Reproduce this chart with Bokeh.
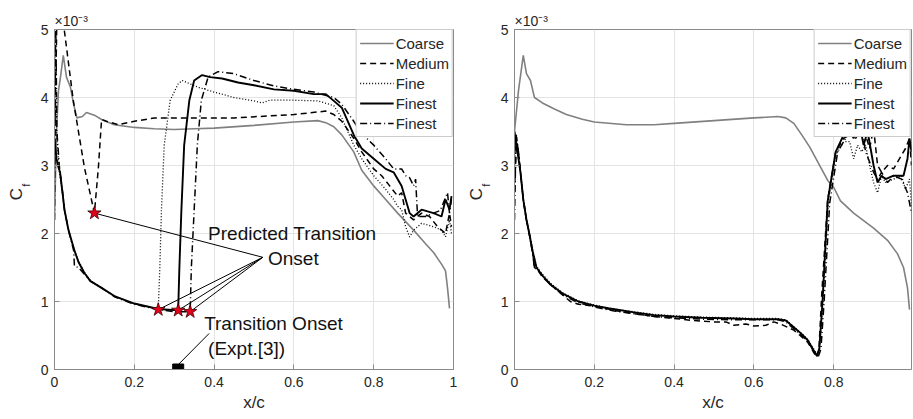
from bokeh.plotting import figure
from bokeh.layouts import row
from bokeh.models import Label, Legend, LegendItem, FixedTicker, Range1d
from bokeh.embed import file_html
from bokeh.resources import INLINE

FONT = "Liberation Sans"

x_ticks = [0, 0.2, 0.4, 0.6, 0.8, 1.0]
x_tick_labels = ["0", "0.2", "0.4", "0.6", "0.8", "1"]
y_ticks = [0, 1, 2, 3, 4, 5]
y_tick_labels = ["0", "1", "2", "3", "4", "5"]
series_names = ["Coarse", "Medium", "Fine", "Finest", "Finest"]

# ---- left panel (x/c, Cf x 1e3) ----
L_coarse = [(0.0, 2.2), (0.005, 3.5), (0.01, 4.1), (0.015, 4.3), (0.022, 4.62), (0.03, 4.3), (0.04, 4.15),
            (0.048, 3.9), (0.056, 3.7), (0.07, 3.72), (0.08, 3.78), (0.1, 3.74), (0.12, 3.67), (0.15, 3.6),
            (0.2, 3.56), (0.25, 3.54), (0.3, 3.53), (0.35, 3.54), (0.4, 3.55), (0.5, 3.59), (0.6, 3.64),
            (0.66, 3.66), (0.68, 3.63), (0.7, 3.57), (0.72, 3.45), (0.75, 3.2), (0.77, 2.93), (0.8, 2.7),
            (0.83, 2.5), (0.86, 2.3), (0.9, 2.05), (0.93, 1.85), (0.95, 1.72), (0.97, 1.55), (0.98, 1.45),
            (0.985, 1.2), (0.99, 0.9)]
L_medium = [(0.0, 3.0), (0.006, 5.2), (0.02, 5.2), (0.047, 3.96), (0.075, 2.97), (0.1, 2.3), (0.11, 2.97),
            (0.118, 3.68), (0.13, 3.65), (0.16, 3.6), (0.2, 3.65), (0.25, 3.7), (0.3, 3.7), (0.45, 3.7),
            (0.6, 3.75), (0.68, 3.8), (0.7, 3.75), (0.72, 3.65), (0.75, 3.4), (0.77, 3.2), (0.8, 2.95),
            (0.82, 2.85), (0.84, 2.7), (0.86, 2.55), (0.87, 2.6), (0.88, 2.3), (0.9, 2.2), (0.92, 2.3),
            (0.94, 2.25), (0.96, 2.1), (0.98, 2.0), (0.99, 2.3), (0.995, 2.1)]
L_fine = [(0.0, 4.9), (0.005, 3.5), (0.012, 2.9), (0.02, 2.6), (0.025, 2.35), (0.035, 2.05), (0.05, 1.75),
          (0.06, 1.6), (0.075, 1.43), (0.09, 1.31), (0.118, 1.2), (0.15, 1.08), (0.2, 0.97), (0.23, 0.93),
          (0.26, 0.88), (0.264, 1.5), (0.268, 2.34), (0.275, 3.3), (0.29, 3.96), (0.31, 4.2), (0.32, 4.25),
          (0.36, 4.15), (0.4, 4.08), (0.45, 4.0), (0.5, 3.95), (0.52, 3.92), (0.54, 3.96), (0.6, 3.96),
          (0.66, 3.95), (0.7, 3.88), (0.72, 3.7), (0.75, 3.3), (0.77, 3.1), (0.8, 2.85), (0.83, 2.65),
          (0.85, 2.5), (0.86, 2.4), (0.87, 2.35), (0.88, 2.1), (0.89, 1.95), (0.9, 2.05), (0.92, 2.15),
          (0.95, 2.1), (0.97, 2.05), (0.98, 1.95), (0.99, 2.2), (0.995, 2.0)]
L_finest = [(0.0, 3.4), (0.005, 3.1), (0.01, 2.97), (0.014, 2.9), (0.02, 2.6), (0.025, 2.35), (0.035, 2.05),
            (0.05, 1.75), (0.06, 1.58), (0.075, 1.42), (0.09, 1.3), (0.118, 1.2), (0.15, 1.08), (0.2, 0.97),
            (0.26, 0.89), (0.31, 0.87), (0.313, 1.5), (0.318, 2.34), (0.325, 3.3), (0.338, 3.96), (0.35, 4.25),
            (0.37, 4.33), (0.39, 4.3), (0.42, 4.28), (0.46, 4.22), (0.5, 4.18), (0.55, 4.12), (0.6, 4.1),
            (0.65, 4.05), (0.68, 4.05), (0.7, 3.95), (0.72, 3.85), (0.75, 3.45), (0.77, 3.25), (0.8, 3.1),
            (0.83, 2.95), (0.85, 2.9), (0.87, 2.7), (0.88, 2.5), (0.89, 2.3), (0.9, 2.25), (0.92, 2.35),
            (0.95, 2.3), (0.97, 2.25), (0.98, 2.5), (0.99, 2.35), (0.995, 2.55)]
L_finest2 = [(0.0, 2.2), (0.003, 5.2), (0.006, 3.5), (0.012, 3.0), (0.02, 2.62), (0.025, 2.35), (0.035, 2.05),
             (0.048, 1.75), (0.05, 1.52), (0.06, 1.5), (0.075, 1.4), (0.09, 1.3), (0.118, 1.2), (0.15, 1.07),
             (0.2, 0.96), (0.26, 0.88), (0.3, 0.85), (0.34, 0.85), (0.343, 1.5), (0.35, 2.34), (0.358, 3.3),
             (0.368, 3.96), (0.385, 4.3), (0.41, 4.38), (0.45, 4.35), (0.5, 4.25), (0.55, 4.17), (0.6, 4.12),
             (0.65, 4.08), (0.7, 4.0), (0.72, 3.9), (0.75, 3.65), (0.77, 3.47), (0.8, 3.3), (0.83, 3.1),
             (0.85, 2.95), (0.87, 2.95), (0.88, 2.85), (0.89, 2.82), (0.9, 2.7), (0.905, 2.8), (0.91, 2.25),
             (0.93, 2.25), (0.95, 2.3), (0.967, 2.34), (0.985, 2.6), (0.99, 2.3), (0.995, 2.5)]

# predicted transition onsets (stars) and experimental onset (square)
onset_x = [0.1, 0.26, 0.31, 0.34]
onset_y = [2.3, 0.88, 0.87, 0.85]
onset_label_anchor = (0.522, 1.65)
expt_x = [0.31]
expt_y = [0.0]
expt_leader_x = [0.31, 0.3875]
expt_leader_y = [0.07, 0.53]

# ---- right panel ----
R_coarse = [(0.0, 3.5), (0.01, 4.1), (0.022, 4.62), (0.03, 4.35), (0.04, 4.25), (0.05, 4.0), (0.07, 3.92),
            (0.1, 3.83), (0.13, 3.75), (0.17, 3.68), (0.2, 3.64), (0.28, 3.6), (0.35, 3.6), (0.4, 3.62),
            (0.5, 3.66), (0.6, 3.7), (0.66, 3.72), (0.68, 3.7), (0.7, 3.62), (0.72, 3.45), (0.74, 3.27),
            (0.785, 2.78), (0.8, 2.68), (0.817, 2.48), (0.85, 2.3), (0.9, 2.08), (0.935, 1.9), (0.96, 1.7),
            (0.975, 1.5), (0.985, 1.2), (0.99, 0.88)]
R_medium = [(0.0, 2.6), (0.005, 3.4), (0.01, 3.2), (0.015, 2.9), (0.022, 2.5), (0.03, 2.2), (0.037, 2.0),
            (0.045, 1.75), (0.05, 1.5), (0.06, 1.45), (0.07, 1.36), (0.09, 1.25), (0.12, 1.1), (0.14, 1.0),
            (0.16, 0.96), (0.2, 0.93), (0.25, 0.87), (0.3, 0.82), (0.35, 0.78), (0.4, 0.75), (0.45, 0.72),
            (0.5, 0.7), (0.53, 0.7), (0.55, 0.65), (0.58, 0.67), (0.6, 0.64), (0.63, 0.65), (0.65, 0.7),
            (0.67, 0.66), (0.7, 0.58), (0.72, 0.48), (0.735, 0.4), (0.75, 0.25), (0.757, 0.18), (0.763, 0.3),
            (0.77, 1.1), (0.785, 2.5), (0.805, 3.2), (0.825, 3.4), (0.84, 3.45), (0.86, 3.5), (0.88, 3.45),
            (0.89, 3.25), (0.9, 3.55), (0.91, 3.0), (0.92, 2.9), (0.935, 3.0), (0.95, 2.95), (0.965, 3.1),
            (0.98, 3.25), (0.99, 3.4), (0.995, 3.0)]
R_fine = [(0.0, 3.0), (0.005, 3.45), (0.01, 3.1), (0.015, 2.9), (0.022, 2.5), (0.03, 2.22), (0.037, 2.02),
          (0.045, 1.77), (0.055, 1.52), (0.07, 1.4), (0.09, 1.27), (0.12, 1.13), (0.16, 1.01), (0.2, 0.95),
          (0.235, 0.9), (0.3, 0.85), (0.35, 0.81), (0.4, 0.79), (0.47, 0.77), (0.55, 0.76), (0.6, 0.75),
          (0.66, 0.75), (0.68, 0.73), (0.7, 0.63), (0.72, 0.53), (0.735, 0.44), (0.75, 0.3), (0.758, 0.22),
          (0.765, 0.35), (0.773, 1.0), (0.786, 2.45), (0.805, 3.15), (0.825, 3.35), (0.84, 3.35), (0.85, 3.1),
          (0.86, 3.3), (0.87, 3.2), (0.88, 3.3), (0.89, 3.0), (0.9, 2.75), (0.91, 2.6), (0.92, 2.85),
          (0.93, 2.75), (0.95, 2.8), (0.97, 2.85), (0.98, 2.65), (0.99, 2.8), (0.995, 2.4)]
R_finest = [(0.0, 3.5), (0.005, 3.3), (0.01, 3.1), (0.015, 2.9), (0.022, 2.5), (0.03, 2.2), (0.037, 2.0),
            (0.045, 1.75), (0.055, 1.5), (0.07, 1.38), (0.09, 1.25), (0.12, 1.12), (0.16, 1.0), (0.2, 0.94),
            (0.235, 0.9), (0.3, 0.84), (0.35, 0.8), (0.4, 0.78), (0.47, 0.76), (0.55, 0.75), (0.6, 0.74),
            (0.66, 0.74), (0.68, 0.72), (0.7, 0.62), (0.72, 0.52), (0.735, 0.43), (0.75, 0.28), (0.758, 0.2),
            (0.764, 0.3), (0.772, 1.0), (0.785, 2.48), (0.805, 3.2), (0.825, 3.45), (0.84, 3.55), (0.85, 3.4),
            (0.86, 3.6), (0.87, 3.45), (0.875, 3.3), (0.885, 3.5), (0.9, 3.0), (0.91, 2.75), (0.92, 2.85),
            (0.93, 2.8), (0.95, 2.85), (0.965, 2.85), (0.975, 2.85), (0.985, 3.1), (0.99, 3.4), (0.995, 3.2)]
R_finest2 = [(0.0, 2.2), (0.004, 3.45), (0.01, 3.2), (0.015, 2.9), (0.022, 2.5), (0.03, 2.2), (0.037, 2.0),
             (0.045, 1.72), (0.05, 1.5), (0.06, 1.45), (0.07, 1.38), (0.09, 1.25), (0.12, 1.1), (0.16, 0.98),
             (0.2, 0.92), (0.25, 0.86), (0.3, 0.82), (0.35, 0.78), (0.4, 0.76), (0.47, 0.74), (0.55, 0.73),
             (0.6, 0.73), (0.66, 0.73), (0.68, 0.7), (0.7, 0.6), (0.72, 0.5), (0.735, 0.42), (0.75, 0.27),
             (0.762, 0.2), (0.768, 0.3), (0.776, 1.0), (0.79, 2.45), (0.81, 3.2), (0.83, 3.4), (0.84, 3.5),
             (0.855, 3.4), (0.87, 3.55), (0.88, 3.2), (0.89, 3.05), (0.9, 2.9), (0.91, 2.8), (0.92, 2.9),
             (0.935, 2.75), (0.95, 2.85), (0.97, 2.8), (0.985, 2.6), (0.995, 2.3)]

STYLES = [
    dict(line_color="#808080", line_width=1.6, line_dash="solid"),
    dict(line_color="#000000", line_width=1.5, line_dash="6 4"),
    dict(line_color="#000000", line_width=1.3, line_dash="1 2"),
    dict(line_color="#000000", line_width=1.9, line_dash="solid"),
    dict(line_color="#000000", line_width=1.5, line_dash="7 3 1 3"),
]
AX = "#8a8a8a"
TXT = "#262626"
H = 415
LAB_W = 37


def make_ylabel_strip():
    """Narrow strip holding the rotated C_f axis title (kept outside the clipped frame)."""
    s = figure(width=LAB_W, height=H, x_range=Range1d(0, LAB_W), y_range=Range1d(0, H),
               output_backend="svg", toolbar_location=None, min_border=0,
               x_axis_location=None, y_axis_location=None)
    s.grid.visible = False
    s.outline_line_color = None
    s.background_fill_color = "white"
    s.border_fill_color = "white"
    s.add_layout(Label(x=16, y=H - 201, angle=90, angle_units="deg", text="C", text_align="center",
                       text_baseline="middle", text_font=FONT, text_font_size="17px", text_color=TXT))
    s.add_layout(Label(x=25, y=H - 190, angle=90, angle_units="deg", text="f", text_align="center",
                       text_baseline="middle", text_font=FONT, text_font_size="11px", text_color=TXT))
    return s


def make_panel(width, bl, br, xend, series):
    p = figure(width=width, height=H, x_range=Range1d(0, xend), y_range=Range1d(0, 5),
               output_backend="svg", toolbar_location=None,
               min_border_left=bl, min_border_right=br, min_border_top=29, min_border_bottom=46)
    p.background_fill_color = "white"
    p.border_fill_color = "white"
    p.outline_line_color = AX
    p.xaxis.ticker = FixedTicker(ticks=x_ticks)
    p.xaxis.major_label_overrides = {t: l for t, l in zip(x_ticks, x_tick_labels)}
    p.yaxis.ticker = FixedTicker(ticks=y_ticks)
    p.yaxis.major_label_overrides = {t: l for t, l in zip(y_ticks, y_tick_labels)}
    for ax in (p.xaxis, p.yaxis):
        ax.axis_line_color = AX
        ax.major_tick_line_color = AX
        ax.major_tick_in = 5
        ax.major_tick_out = 0
        ax.minor_tick_line_color = None
        ax.major_label_text_font = FONT
        ax.major_label_text_font_size = "14px"
        ax.major_label_text_color = TXT
    p.xaxis.major_label_standoff = 7
    p.yaxis.major_label_standoff = 6
    p.xaxis.axis_label = "x/c"
    p.xaxis.axis_label_standoff = 3
    p.xaxis.axis_label_text_font = FONT
    p.xaxis.axis_label_text_font_size = "17px"
    p.xaxis.axis_label_text_font_style = "normal"
    p.xaxis.axis_label_text_color = TXT
    p.grid.grid_line_color = "#e4e4e4"
    p.grid.grid_line_width = 1

    # exponent above the y axis
    p.title.text = "\u00d710\u207b\u00b3"
    p.title.align = "left"
    p.title.offset = 0
    p.title.standoff = 1
    p.title.text_font = FONT
    p.title.text_font_size = "14px"
    p.title.text_font_style = "normal"
    p.title.text_color = TXT

    rends = []
    for pts, st in zip(series, STYLES):
        xs = [a for a, b in pts]
        ys = [b for a, b in pts]
        rends.append(p.line(xs, ys, **st))

    items = [LegendItem(label=n, renderers=[r]) for n, r in zip(series_names, rends)]
    leg = Legend(items=items, location="top_right", margin=0, padding=3, spacing=0,
                 glyph_width=34, glyph_height=20, label_height=20, label_standoff=2,
                 label_text_font=FONT, label_text_font_size="15px", label_text_color=TXT,
                 border_line_color="#9a9a9a", border_line_width=1,
                 background_fill_color="white", background_fill_alpha=1.0)
    p.add_layout(leg)
    return p


p1 = make_panel(460 - LAB_W, 53 - LAB_W, 7, 1.0, [L_coarse, L_medium, L_fine, L_finest, L_finest2])
p2 = make_panel(452 - LAB_W, 53 - LAB_W, 1, 0.995, [R_coarse, R_medium, R_fine, R_finest, R_finest2])

# annotations on the left panel
ax_, ay_ = onset_label_anchor
p1.segment(x0=onset_x, y0=onset_y, x1=[ax_] * len(onset_x), y1=[ay_] * len(onset_y),
           line_color="#000000", line_width=1)
p1.line(expt_leader_x, expt_leader_y, line_color="#000000", line_width=1)
p1.scatter(onset_x, onset_y, marker="star", size=14, fill_color="#e3001b", line_color="#3a0000",
           line_width=0.8)
p1.scatter(expt_x, expt_y, marker="square", size=11, fill_color="#000000", line_color="#000000")

for tx, ty, tt in [(0.385, 2.0, "Predicted Transition"), (0.535, 1.63, "Onset"),
                   (0.375, 0.68, "Transition Onset"), (0.385, 0.31, "(Expt.[3])")]:
    p1.add_layout(Label(x=tx, y=ty, text=tt, text_align="left", text_baseline="middle",
                        text_font=FONT, text_font_size="19px", text_color="#111111"))

layout = row(make_ylabel_strip(), p1, make_ylabel_strip(), p2)
open("out.html", "w").write(file_html(layout, INLINE))
